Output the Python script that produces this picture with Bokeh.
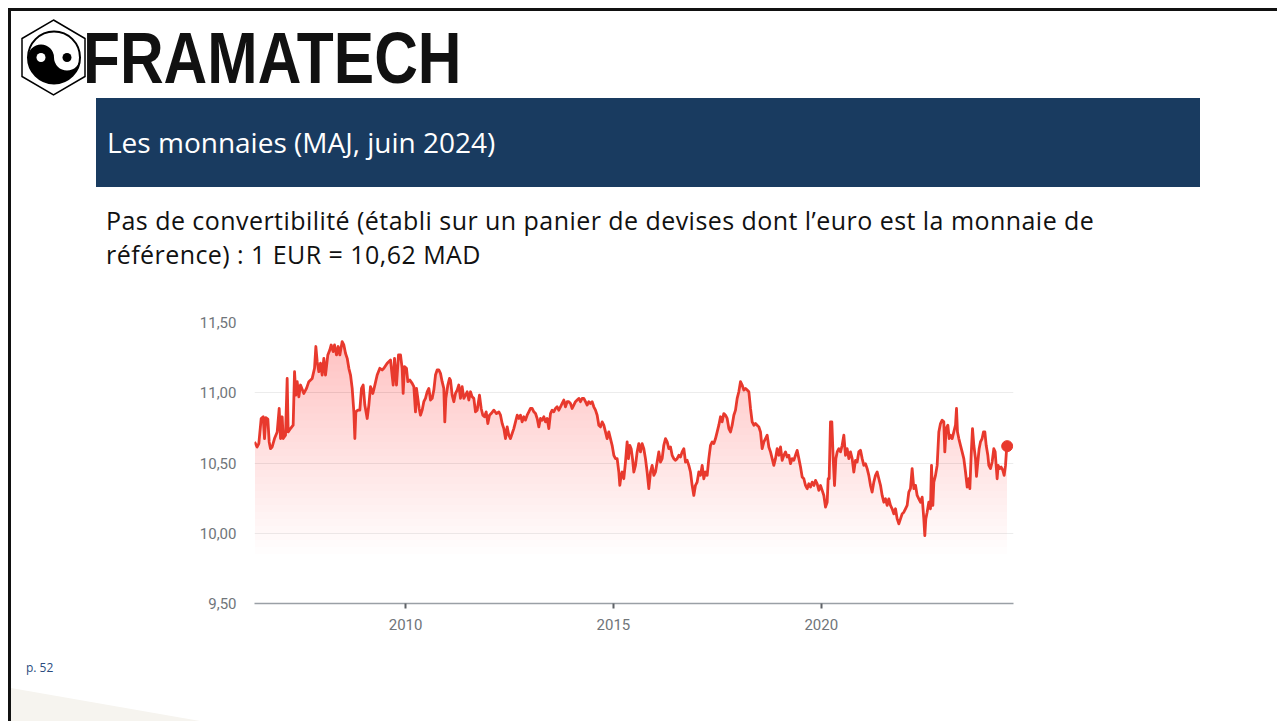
import numpy as np
from bokeh.plotting import figure
from bokeh.models import Range1d, FixedTicker, Div
from bokeh.layouts import column, row
from bokeh.embed import file_html
from bokeh.resources import INLINE

# ---------------- data (EUR/MAD) ----------------
years_2006 = [2006.366, 2006.430, 2006.470, 2006.527, 2006.575, 2006.607, 2006.639, 2006.687, 2006.719, 2006.751,
              2006.791, 2006.847, 2006.912, 2006.960, 2006.992, 2007.032, 2007.056, 2007.112, 2007.152, 2007.176,
              2007.232, 2007.296, 2007.329, 2007.361, 2007.393, 2007.433, 2007.473, 2007.553, 2007.617, 2007.673,
              2007.754, 2007.810, 2007.842, 2007.874, 2007.914, 2007.954, 2007.994, 2008.034, 2008.074, 2008.130,
              2008.179, 2008.211, 2008.259, 2008.291, 2008.339, 2008.379, 2008.419, 2008.475, 2008.515, 2008.555,
              2008.596, 2008.636, 2008.676, 2008.716, 2008.756, 2008.780, 2008.804, 2008.852, 2008.900, 2008.940,
              2008.980, 2009.020, 2009.077, 2009.117, 2009.157, 2009.213, 2009.253, 2009.317, 2009.381, 2009.437,
              2009.478, 2009.558, 2009.638, 2009.702, 2009.734, 2009.782, 2009.830]
rates_2006 = [10.650, 10.614, 10.638, 10.817, 10.829, 10.674, 10.822, 10.812, 10.650, 10.602,
              10.614, 10.674, 10.721, 10.888, 10.674, 10.829, 10.674, 10.698, 11.102, 10.721,
              10.745, 10.769, 11.150, 10.983, 11.079, 10.971, 11.055, 10.995, 11.031, 11.079,
              11.102, 11.174, 11.329, 11.221, 11.150, 11.210, 11.126, 11.245, 11.126, 11.269,
              11.305, 11.340, 11.293, 11.340, 11.269, 11.329, 11.269, 11.364, 11.340, 11.281,
              11.245, 11.174, 11.126, 11.031, 10.864, 10.674, 10.864, 10.876, 10.876, 11.031,
              11.055, 10.912, 10.817, 10.912, 11.043, 10.995, 11.043, 11.126, 11.174, 11.162,
              11.174, 11.210, 11.233, 11.055, 11.245, 11.055, 11.269]

years_2010 = [2009.878, 2009.918, 2009.942, 2009.974, 2010.022, 2010.054, 2010.103, 2010.159, 2010.199, 2010.239,
              2010.263, 2010.295, 2010.327, 2010.359, 2010.399, 2010.439, 2010.479, 2010.520, 2010.560, 2010.600,
              2010.640, 2010.680, 2010.720, 2010.760, 2010.800, 2010.840, 2010.880, 2010.920, 2010.944, 2010.969,
              2011.017, 2011.057, 2011.081, 2011.121, 2011.161, 2011.201, 2011.241, 2011.281, 2011.321, 2011.361,
              2011.402, 2011.442, 2011.482, 2011.522, 2011.562, 2011.602, 2011.642, 2011.682, 2011.722, 2011.778,
              2011.819, 2011.859, 2011.899, 2011.939, 2011.979, 2012.019, 2012.059, 2012.123, 2012.187, 2012.244,
              2012.284, 2012.324, 2012.364, 2012.404, 2012.444, 2012.484, 2012.524, 2012.564, 2012.604, 2012.645,
              2012.685, 2012.725, 2012.765, 2012.805, 2012.845, 2012.885, 2012.925, 2012.965, 2013.005, 2013.045,
              2013.086, 2013.126, 2013.166, 2013.206, 2013.246, 2013.286, 2013.326, 2013.366, 2013.406, 2013.446]
rates_2010 = [11.269, 11.174, 10.995, 11.186, 11.174, 11.079, 11.090, 11.067, 11.043, 10.864,
              11.031, 10.960, 10.888, 10.840, 10.876, 10.936, 10.960, 11.007, 11.031, 10.948,
              10.960, 11.019, 11.126, 11.162, 11.162, 11.138, 11.079, 11.031, 10.793, 10.960,
              11.055, 11.102, 11.090, 10.983, 10.936, 10.995, 11.019, 11.055, 10.960, 11.043,
              10.960, 10.983, 11.007, 10.948, 11.007, 10.971, 10.960, 10.864, 10.876, 10.983,
              10.888, 10.840, 10.829, 10.864, 10.781, 10.840, 10.852, 10.876, 10.852, 10.864,
              10.840, 10.781, 10.745, 10.674, 10.757, 10.698, 10.674, 10.710, 10.745, 10.793,
              10.840, 10.817, 10.840, 10.793, 10.829, 10.805, 10.840, 10.864, 10.888, 10.888,
              10.864, 10.852, 10.817, 10.757, 10.817, 10.805, 10.829, 10.793, 10.817, 10.745]

years_2013 = [2013.486, 2013.526, 2013.566, 2013.606, 2013.646, 2013.686, 2013.727, 2013.767, 2013.807, 2013.847,
              2013.887, 2013.927, 2013.967, 2014.007, 2014.047, 2014.087, 2014.128, 2014.168, 2014.208, 2014.248,
              2014.288, 2014.328, 2014.368, 2014.408, 2014.448, 2014.488, 2014.528, 2014.569, 2014.609, 2014.649,
              2014.689, 2014.729, 2014.769, 2014.809, 2014.849, 2014.889, 2014.929, 2014.969, 2015.010, 2015.050,
              2015.090, 2015.130, 2015.154, 2015.186, 2015.210, 2015.250, 2015.290, 2015.330, 2015.362, 2015.394,
              2015.427, 2015.459, 2015.491, 2015.531, 2015.571, 2015.611, 2015.651, 2015.691, 2015.731, 2015.771,
              2015.811, 2015.852, 2015.892, 2015.932, 2015.972, 2016.012, 2016.052, 2016.092, 2016.132, 2016.172,
              2016.212, 2016.253, 2016.293, 2016.333, 2016.373, 2016.413, 2016.453, 2016.493, 2016.533, 2016.573,
              2016.613, 2016.653, 2016.694, 2016.734, 2016.774, 2016.814, 2016.854, 2016.894, 2016.934, 2016.974,
              2017.014, 2017.054]
rates_2013 = [10.852, 10.876, 10.864, 10.888, 10.900, 10.876, 10.900, 10.924, 10.948, 10.900,
              10.936, 10.936, 10.924, 10.888, 10.912, 10.936, 10.948, 10.960, 10.936, 10.960,
              10.960, 10.936, 10.912, 10.936, 10.924, 10.936, 10.900, 10.876, 10.840, 10.769,
              10.757, 10.793, 10.769, 10.721, 10.674, 10.721, 10.674, 10.626, 10.555, 10.531,
              10.531, 10.436, 10.341, 10.412, 10.436, 10.388, 10.507, 10.650, 10.531, 10.626,
              10.602, 10.531, 10.436, 10.483, 10.579, 10.638, 10.579, 10.638, 10.602, 10.531,
              10.436, 10.317, 10.436, 10.483, 10.412, 10.436, 10.507, 10.579, 10.507, 10.531,
              10.626, 10.674, 10.650, 10.602, 10.614, 10.555, 10.531, 10.519, 10.531, 10.555,
              10.543, 10.579, 10.602, 10.507, 10.519, 10.483, 10.436, 10.341, 10.269, 10.341,
              10.364, 10.436]

years_2017 = [2017.095, 2017.135, 2017.175, 2017.215, 2017.255, 2017.295, 2017.336, 2017.376, 2017.416, 2017.456,
              2017.496, 2017.536, 2017.576, 2017.616, 2017.656, 2017.696, 2017.736, 2017.777, 2017.817, 2017.857,
              2017.897, 2017.937, 2017.977, 2018.017, 2018.057, 2018.097, 2018.137, 2018.178, 2018.218, 2018.258,
              2018.298, 2018.338, 2018.378, 2018.418, 2018.458, 2018.498, 2018.538, 2018.578, 2018.619, 2018.659,
              2018.699, 2018.739, 2018.779, 2018.819, 2018.859, 2018.899, 2018.939, 2018.979, 2019.020, 2019.060,
              2019.100, 2019.140, 2019.180, 2019.220, 2019.260, 2019.300, 2019.340, 2019.380, 2019.420, 2019.461,
              2019.501, 2019.541, 2019.581, 2019.621, 2019.661, 2019.701, 2019.741, 2019.781, 2019.822, 2019.862,
              2019.902, 2019.942, 2019.982, 2020.022, 2020.062, 2020.102, 2020.142, 2020.166, 2020.190, 2020.222,
              2020.254, 2020.287, 2020.319, 2020.351, 2020.383, 2020.423, 2020.463, 2020.503, 2020.543, 2020.583,
              2020.623, 2020.663]
rates_2017 = [10.412, 10.483, 10.388, 10.436, 10.412, 10.531, 10.626, 10.650, 10.638, 10.674,
              10.721, 10.769, 10.829, 10.793, 10.852, 10.840, 10.817, 10.745, 10.721, 10.769,
              10.840, 10.876, 10.960, 11.007, 11.079, 11.055, 11.019, 11.031, 11.019, 11.007,
              10.888, 10.793, 10.769, 10.781, 10.769, 10.757, 10.721, 10.602, 10.650, 10.674,
              10.698, 10.614, 10.579, 10.531, 10.483, 10.531, 10.602, 10.555, 10.614, 10.519,
              10.555, 10.579, 10.543, 10.555, 10.495, 10.531, 10.519, 10.555, 10.590, 10.531,
              10.471, 10.400, 10.388, 10.340, 10.317, 10.352, 10.329, 10.364, 10.340, 10.376,
              10.352, 10.305, 10.340, 10.305, 10.269, 10.186, 10.221, 10.388, 10.388, 10.793,
              10.793, 10.531, 10.340, 10.531, 10.579, 10.602, 10.579, 10.626, 10.698, 10.555,
              10.602, 10.531]

years_2020 = [2020.703, 2020.743, 2020.783, 2020.823, 2020.863, 2020.903, 2020.944, 2020.984, 2021.024, 2021.064,
              2021.104, 2021.144, 2021.184, 2021.224, 2021.264, 2021.304, 2021.345, 2021.385, 2021.425, 2021.465,
              2021.505, 2021.545, 2021.585, 2021.625, 2021.665, 2021.705, 2021.745, 2021.786, 2021.826, 2021.866,
              2021.906, 2021.946, 2021.986, 2022.026, 2022.066, 2022.106, 2022.146, 2022.186, 2022.227, 2022.267,
              2022.307, 2022.347, 2022.387, 2022.427, 2022.467, 2022.491, 2022.515, 2022.547, 2022.587, 2022.627,
              2022.652, 2022.684, 2022.708, 2022.748, 2022.788, 2022.828, 2022.868, 2022.908, 2022.948, 2022.972,
              2023.004, 2023.045, 2023.077, 2023.109, 2023.149, 2023.189, 2023.229, 2023.253, 2023.277, 2023.309,
              2023.349, 2023.389, 2023.429, 2023.470, 2023.510, 2023.550, 2023.574, 2023.606, 2023.638, 2023.670,
              2023.710, 2023.734, 2023.766, 2023.798, 2023.830, 2023.870, 2023.902, 2023.935, 2023.967, 2024.007,
              2024.031, 2024.071, 2024.111, 2024.151, 2024.183, 2024.207, 2024.231, 2024.255, 2024.287, 2024.328,
              2024.368, 2024.400, 2024.432, 2024.456, 2024.472]
rates_2020 = [10.579, 10.531, 10.436, 10.519, 10.507, 10.579, 10.590, 10.531, 10.483, 10.495,
              10.460, 10.412, 10.341, 10.293, 10.364, 10.412, 10.436, 10.388, 10.341, 10.269,
              10.221, 10.245, 10.198, 10.245, 10.198, 10.174, 10.138, 10.174, 10.102, 10.067,
              10.102, 10.138, 10.150, 10.174, 10.198, 10.293, 10.317, 10.460, 10.317, 10.341,
              10.269, 10.245, 10.221, 10.257, 10.102, 9.983, 10.102, 10.150, 10.221, 10.174,
              10.483, 10.198, 10.364, 10.412, 10.483, 10.721, 10.781, 10.805, 10.793, 10.579,
              10.745, 10.769, 10.674, 10.698, 10.674, 10.721, 10.769, 10.888, 10.721, 10.674,
              10.626, 10.579, 10.531, 10.436, 10.329, 10.388, 10.317, 10.555, 10.745, 10.626,
              10.531, 10.405, 10.507, 10.602, 10.650, 10.674, 10.721, 10.721, 10.626, 10.555,
              10.483, 10.460, 10.507, 10.602, 10.579, 10.483, 10.388, 10.483, 10.460, 10.471,
              10.448, 10.412, 10.483, 10.590, 10.620]

ytick_values = [9.5, 10.0, 10.5, 11.0, 11.5]
ytick_labels = ["9,50", "10,00", "10,50", "11,00", "11,50"]
xtick_values = [2010, 2015, 2020]
xtick_labels = ["2010", "2015", "2020"]

years = np.array(years_2006 + years_2010 + years_2013 + years_2017 + years_2020)
rates = np.array(rates_2006 + rates_2010 + rates_2013 + rates_2017 + rates_2020)

# ---------------- chart ----------------
TOP_H, MID_H, BOT_H = 280, 380, 61
STRIP_W, FIG_W = 14, 1006
RIGHT_W = 1277 - STRIP_W - FIG_W
FL, FT, FW, FH = 240, 42, 759, 281
PX_PER_YEAR = 41.57
X0 = years[0]
X1 = X0 + FW / PX_PER_YEAR
RED = "#e8392d"
GREY = "#70757a"

p = figure(width=FIG_W, height=MID_H, x_range=Range1d(X0, X1), y_range=Range1d(9.5, 11.5),
           output_backend="svg", toolbar_location=None, title=None,
           min_border_left=FL, min_border_right=FIG_W - FL - FW,
           min_border_top=FT, min_border_bottom=MID_H - FT - FH,
           outline_line_color=None, background_fill_color="white", border_fill_color="white")

# gradient fill under the line (stacked translucent layers)
for lvl in np.arange(9.85, 11.46, 0.05):
    p.varea(x=years, y1=np.minimum(lvl, rates), y2=rates, fill_color=RED, fill_alpha=0.008)

p.line(years, rates, line_color=RED, line_width=2.8, line_join="round")
p.scatter(years[-1:], rates[-1:], size=11, color=RED)

p.xgrid.visible = False
p.ygrid.grid_line_color = "#ececec"
p.ygrid.grid_line_width = 1

p.yaxis.ticker = FixedTicker(ticks=ytick_values)
p.yaxis.major_label_overrides = {v: l for v, l in zip(ytick_values, ytick_labels)}
p.yaxis.axis_line_color = None
p.yaxis.major_tick_line_color = None
p.yaxis.minor_tick_line_color = None
p.yaxis.major_label_standoff = 12
p.yaxis.major_label_text_font = "Roboto"
p.yaxis.major_label_text_font_size = "15px"
p.yaxis.major_label_text_color = GREY

p.xaxis.ticker = FixedTicker(ticks=xtick_values)
p.xaxis.major_label_overrides = {v: l for v, l in zip(xtick_values, xtick_labels)}
p.xaxis.axis_line_color = "#9aa0a6"
p.xaxis.axis_line_width = 1.5
p.xaxis.major_tick_in = 0
p.xaxis.major_tick_out = 5
p.xaxis.major_tick_line_color = "#5f6368"
p.xaxis.major_tick_line_width = 2
p.xaxis.minor_tick_line_color = None
p.xaxis.major_label_standoff = 10
p.xaxis.major_label_text_font = "Roboto"
p.xaxis.major_label_text_font_size = "15px"
p.xaxis.major_label_text_color = GREY

# ---------------- slide decoration (HTML) ----------------
cx, cy, R = 54.0, 57.5, 26.0
yin = (f"M {cx-R} {cy} A {R/2} {R/2} 0 0 1 {cx} {cy} "
       f"A {R/2} {R/2} 0 0 0 {cx+R} {cy} A {R} {R} 0 0 1 {cx-R} {cy} Z")
logo_svg = (
    '<svg width="100" height="100" style="position:absolute;left:0;top:0">'
    '<polygon points="53.5,20 85,38.5 85,76.5 53.5,95 22,76.5 22,38.5" fill="none" stroke="black" stroke-width="1.5"/>'
    f'<circle cx="{cx}" cy="{cy}" r="{R}" fill="white" stroke="black" stroke-width="2"/>'
    f'<path d="{yin}" fill="black"/>'
    f'<circle cx="{cx-R/2}" cy="{cy}" r="4.5" fill="white"/>'
    f'<circle cx="{cx+R/2}" cy="{cy}" r="4.5" fill="black"/>'
    '</svg>')

LINE = "background:#111;position:absolute;"
BODY = ("position:absolute;left:106px;line-height:34px;height:34px;font-family:'Open Sans';"
        "font-size:25px;letter-spacing:0.45px;color:#111;white-space:nowrap;")
top_html = (
    f'<div style="position:relative;width:1277px;height:{TOP_H}px;overflow:hidden;background:white;">'
    f'<div style="{LINE}left:8px;top:8px;width:1269px;height:3px;"></div>'
    f'<div style="{LINE}left:8px;top:8px;width:3px;height:{TOP_H}px;"></div>'
    + logo_svg +
    '<div style="position:absolute;left:83px;top:22px;line-height:72px;font-family:\'Liberation Sans\';'
    'font-weight:bold;font-size:72px;color:#111;white-space:nowrap;transform:scaleX(0.84);'
    'transform-origin:left top;">FRAMATECH</div>'
    '<div style="position:absolute;left:96px;top:98px;width:1104px;height:89px;background:#193b60;"></div>'
    '<div style="position:absolute;left:107px;top:98px;line-height:89px;font-family:\'Open Sans\';'
    'font-size:28px;color:white;white-space:nowrap;">Les monnaies (MAJ, juin 2024)</div>'
    f'<div style="{BODY}top:203px;">'
    'Pas de convertibilité (établi sur un panier de devises dont l’euro est la monnaie de</div>'
    f'<div style="{BODY}top:237px;">référence) : 1 EUR = 10,62 MAD</div>'
    '</div>')

strip_html = (f'<div style="position:relative;width:{STRIP_W}px;height:{MID_H}px;background:white;">'
              f'<div style="{LINE}left:8px;top:0;width:3px;height:{MID_H}px;"></div></div>')
right_html = f'<div style="width:{RIGHT_W}px;height:{MID_H}px;background:white;"></div>'
bot_html = (f'<div style="position:relative;width:1277px;height:{BOT_H}px;background:white;">'
            f'<svg width="1277" height="{BOT_H}" style="position:absolute;left:0;top:0">'
            '<polygon points="11,28 200,61 11,61" fill="#f6f4ef"/></svg>'
            f'<div style="{LINE}left:8px;top:0;width:3px;height:{BOT_H}px;"></div>'
            '<div style="position:absolute;left:26px;top:0px;line-height:16px;font-family:\'Open Sans\';'
            'font-size:12px;color:#2b4c7e;">p. 52</div></div>')

top = Div(text=top_html, width=1277, height=TOP_H, margin=0)
strip = Div(text=strip_html, width=STRIP_W, height=MID_H, margin=0)
right = Div(text=right_html, width=RIGHT_W, height=MID_H, margin=0)
bot = Div(text=bot_html, width=1277, height=BOT_H, margin=0)

page = column(top, row(strip, p, right, spacing=0), bot, spacing=0)

open("out.html", "w").write(file_html(page, INLINE))
